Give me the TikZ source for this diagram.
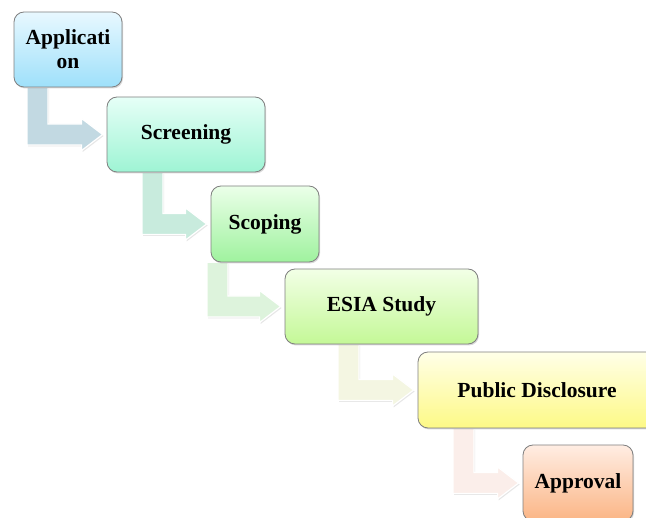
\documentclass[tikz,border=0pt]{standalone}
\usepackage{fontspec}
\setmainfont{Liberation Serif}
\usetikzlibrary{calc,shadows}
\pgfdeclarelayer{bg}
\pgfsetlayers{bg,main}
\definecolor{arA}{HTML}{C2D9E2}
\definecolor{arB}{HTML}{C8EBDD}
\definecolor{arC}{HTML}{DDF3DC}
\definecolor{arD}{HTML}{F4F6E2}
\definecolor{arE}{HTML}{FBEEEA}
\definecolor{bdr}{HTML}{7F7F7F}
\definecolor{aT}{HTML}{E8F8FF}\definecolor{aB}{HTML}{9EE0FA}
\definecolor{bT}{HTML}{E6FFF7}\definecolor{bB}{HTML}{9EF4D4}
\definecolor{cT}{HTML}{EBFFE9}\definecolor{cB}{HTML}{9FF29E}
\definecolor{dT}{HTML}{F2FFE6}\definecolor{dB}{HTML}{C4F897}
\definecolor{eT}{HTML}{FFFFE8}\definecolor{eB}{HTML}{FDF986}
\definecolor{fT}{HTML}{FFEDE3}\definecolor{fB}{HTML}{FBB585}
\tikzset{
  stepbox/.style={draw=bdr, line width=0.8pt, rounded corners=10pt, align=center,
    font=\fontsize{21.5}{24}\selectfont\bfseries, inner sep=2pt,
    drop shadow={opacity=0.3, shadow xshift=1pt, shadow yshift=-1.5pt}},
  bentarrow/.style={fill=#1, draw=white, line width=1.2pt, line join=miter,
    drop shadow={opacity=0.2, shadow xshift=1pt, shadow yshift=-1.5pt}}
}
\newcommand\bentarr[4]{%
  \path[bentarrow=#4] let \p1=(#1.south), \p2=(#2.west) in
    ({#3pt},\y1) -- ({#3pt+21pt},\y1) -- ({#3pt+21pt},{\y2+10.5pt})
    -- ({\x2-25pt},{\y2+10.5pt}) -- ({\x2-25pt},{\y2+16pt}) -- ({\x2-4pt},\y2)
    -- ({\x2-25pt},{\y2-16pt}) -- ({\x2-25pt},{\y2-10.5pt}) -- ({#3pt},{\y2-10.5pt}) -- cycle;}
\begin{document}
\begin{tikzpicture}[x=1pt,y=-1pt]
\useasboundingbox (0,0) rectangle (646,518);
\clip (0,0) rectangle (646,518);
\node[stepbox, minimum width=108pt, minimum height=75pt, top color=aT, bottom color=aB] (app) at (68,49.5) {Applicati\\on};
\node[stepbox, minimum width=158pt, minimum height=75pt, top color=bT, bottom color=bB] (scr) at (186,134.5) {Screening};
\node[stepbox, minimum width=108pt, minimum height=76pt, top color=cT, bottom color=cB] (sco) at (265,224) {Scoping};
\node[stepbox, minimum width=193pt, minimum height=75pt, top color=dT, bottom color=dB] (esia) at (381.5,306.5) {ESIA Study};
\node[stepbox, minimum width=238pt, minimum height=76pt, top color=eT, bottom color=eB] (pub) at (537,390) {Public Disclosure};
\node[stepbox, minimum width=110pt, minimum height=76pt, top color=fT, bottom color=fB] (appr) at (578,483) {Approval};
\begin{pgfonlayer}{bg}
\bentarr{app}{scr}{27}{arA}
\bentarr{scr}{sco}{142}{arB}
\bentarr{sco}{esia}{207}{arC}
\bentarr{esia}{pub}{338}{arD}
\bentarr{pub}{appr}{453}{arE}
\end{pgfonlayer}
\end{tikzpicture}
\end{document}
